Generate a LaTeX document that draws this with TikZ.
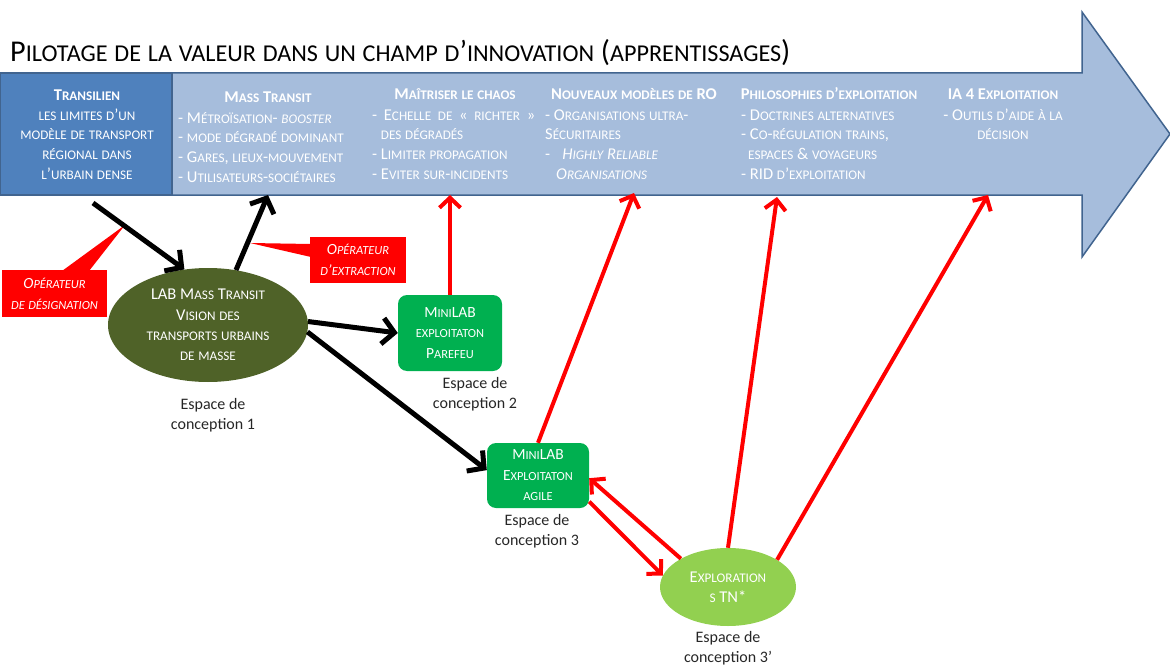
\documentclass[tikz,border=0pt]{standalone}
\usepackage{fontspec}
\setmainfont{Carlito}
\usetikzlibrary{arrows.meta,shapes.geometric,positioning}
\definecolor{barfonce}{HTML}{4F81BD}
\definecolor{barclair}{HTML}{A6BDDC}
\definecolor{barbord}{HTML}{41648F}
\definecolor{olive}{HTML}{4F6228}
\definecolor{vertlab}{HTML}{00B050}
\definecolor{vertclair}{HTML}{92D050}
\definecolor{rouge}{HTML}{FF0000}
\definecolor{texte}{HTML}{262626}

% small capitals drawn from capitals (Carlito has none)
\ExplSyntaxOn
\fp_new:N \l_fsc_ratio_fp
\fp_set:Nn \l_fsc_ratio_fp { 0.8 }
\cs_new_protected:Npn \fsc_char:n #1
  {
    \int_compare:nNnTF { \uccode `#1 } = { 0 }
      { #1 }
      {
        \int_compare:nNnTF { \uccode `#1 } = { `#1 }
          { #1 }
          {
            { \fontsize { \fp_eval:n { \l_fsc_ratio_fp * \use:c { f@size } } } { 0 }
              \selectfont \char \uccode `#1 \scan_stop: }
          }
      }
  }
\cs_new_protected:Npn \fsc #1
  { \str_map_inline:nn {#1} { \fsc_char:n {##1} } }
\ExplSyntaxOff

\tikzset{
  bartxt/.style={text=white, font=\fontsize{16.5}{19.7}\selectfont, inner sep=0pt},
  coltitre/.style={bartxt, font=\fontsize{16.5}{19.7}\selectfont\bfseries, anchor=base},
  colcorps/.style={bartxt, align=left, anchor=north west},
  espace/.style={text=texte, font=\fontsize{16}{20}\selectfont, align=center, inner sep=0pt},
  operateur/.style={fill=rouge, text=white, font=\fontsize{15.5}{21}\selectfont\itshape,
    align=center, inner sep=0pt},
  lab/.style={text=white, font=\fontsize{16.5}{20.3}\selectfont, align=center, inner sep=0pt},
  minilab/.style={lab, fill=vertlab, rounded corners=9pt, font=\fontsize{15.5}{20.5}\selectfont},
  fleche/.style={line width=5pt, black, -{Straight Barb[length=12pt,width=26pt]}},
  flecherouge/.style={line width=4pt, rouge, -{Straight Barb[length=10pt,width=21pt]}}
}

\begin{document}
\begin{tikzpicture}[x=1pt,y=-1pt]
  \useasboundingbox (0,0) rectangle (1170,666);

  % Big arrow
  \draw[fill=barclair, draw=barbord, line width=1.5pt]
    (0,73) -- (1082,73) -- (1082,12) -- (1170,134) -- (1082,257) -- (1082,195) -- (0,195) -- cycle;
  \draw[fill=barfonce, draw=barbord, line width=1.5pt] (0,73) rectangle (172,195);

  % Title
  \node[anchor=base west, inner sep=0pt, font=\fontsize{30.2}{36}\selectfont] (titre) at (10,62)
    {\fsc{Pilotage de la valeur dans un champ d’innovation (apprentissages)}};

  % Columns of the arrow
  \node[coltitre] (transilien) at (87,101) {\fsc{Transilien}};
  \node[bartxt, align=center, anchor=north] (transcorps) at (87,106.2)
    {\strut\fsc{les limites d’un}\\\fsc{modèle de transport}\\\fsc{régional dans}\\\fsc{l’urbain dense}};

  \node[coltitre] (masse) at (268,103) {\fsc{Mass Transit}};
  \node[colcorps] (massecorps) at (178,109.2)
    {\strut\fsc{- Métroïsation- }\textit{\fsc{booster}}\\\fsc{- mode dégradé dominant}\\
     \fsc{- Gares, lieux-mouvement}\\\fsc{- Utilisateurs-sociétaires}};

  \node[coltitre] (chaos) at (455,100) {\fsc{Maîtriser le chaos}};
  \node[colcorps] (chaoscorps) at (372,106.2)
    {\strut\makebox[163pt][s]{\fsc{- Echelle de « richter »}}\\\phantom{- }\fsc{des dégradés}\\
     \fsc{- Limiter propagation}\\\fsc{- Eviter sur-incidents}};

  \node[coltitre] (ro) at (634,100) {\fsc{Nouveaux modèles de RO}};
  \node[colcorps] (rocorps) at (545,106.2)
    {\strut\fsc{- Organisations ultra-}\\\fsc{Sécuritaires}\\
     -\hspace{12pt}\textit{\fsc{Highly Reliable}}\\\hspace{11pt}\textit{\fsc{Organisations}}};

  \node[coltitre] (philo) at (829,100) {\fsc{Philosophies d’exploitation}};
  \node[colcorps] (philocorps) at (741,106.2)
    {\strut\fsc{- Doctrines alternatives}\\\fsc{- Co-régulation trains,}\\
     \hspace{7pt}\fsc{espaces }\&\fsc{ voyageurs}\\\fsc{- RID d’exploitation}};

  \node[coltitre] (ia) at (1003,100) {\fsc{IA 4 Exploitation}};
  \node[bartxt, align=center, anchor=north] (iacorps) at (1003,106.2)
    {\strut\fsc{- Outils d’aide à la}\\\fsc{décision}};

  % Design spaces
  \node[lab, ellipse, fill=olive, minimum width=200pt, minimum height=114pt] (lab) at (208,325)
    {\fsc{LAB Mass Transit}\\\fsc{Vision des}\\\fsc{transports urbains}\\\fsc{de masse}};
  \node[espace] (espace1) at (213,415) {Espace de\\conception 1};

  \node[minilab, minimum width=104pt, minimum height=76pt] (parefeu) at (450,333)
    {\fsc{MiniLAB}\\\fsc{exploitaton}\\\fsc{Parefeu}};
  \node[espace] (espace2) at (475,394) {Espace de\\conception 2};

  \node[minilab, minimum width=102pt, minimum height=65pt] (agile) at (538,475.5)
    {\fsc{MiniLAB}\\\fsc{Exploitaton}\\\fsc{agile}};
  \node[espace] (espace3) at (537,531) {Espace de\\conception 3};

  \node[lab, ellipse, fill=vertclair, minimum width=136pt, minimum height=78pt] (explo) at (728,587)
    {\fsc{Exploration}\\\fsc{s TN*}};
  \node[espace] (espace3b) at (728,648) {Espace de\\conception 3’};

  % Operators
  \fill[rouge] (125,225) -- (62,271) -- (89,271) -- cycle;
  \node[operateur, minimum width=105pt, minimum height=47pt] (designation) at (54.5,293.5)
    {\fsc{Opérateur}\\\fsc{de désignation}};
  \fill[rouge] (250,243) -- (311,244) -- (311,257) -- cycle;
  \node[operateur, minimum width=96pt, minimum height=46pt] (extraction) at (358,260)
    {\fsc{Opérateur}\\\fsc{d’extraction}};

  % Free ends on the arrow
  \coordinate (depart) at (93,203);
  \coordinate (massebas) at (268,195);
  \coordinate (chaosbas) at (450,195);
  \coordinate (robas) at (634,193);
  \coordinate (philobas) at (777,197);
  \coordinate (iabas) at (988,195);

  % Black connectors
  \draw[fleche] (depart) -- (lab.113);
  \draw[fleche] (lab.63) -- (massebas);
  \draw[fleche] (lab.2) -- (parefeu.west);
  \draw[fleche] (lab.-4) -- (agile.174);

  % Red connectors
  \draw[flecherouge] (parefeu.north) -- (chaosbas);
  \draw[flecherouge] (agile.north) -- (robas);
  \draw[flecherouge] (explo.north) -- (philobas);
  \draw[flecherouge] (explo.29) -- (iabas);
  \draw[flecherouge] (explo.149) -- (agile.-3);
  \draw[flecherouge] (agile.-27) -- (explo.170);
\end{tikzpicture}
\end{document}
